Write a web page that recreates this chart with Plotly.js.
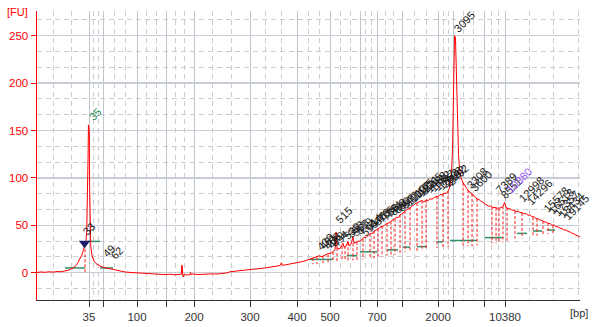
<!DOCTYPE html>
<html><head><meta charset="utf-8">
<script src="https://cdn.plot.ly/plotly-3.0.1.min.js"></script>
<style>html,body{margin:0;padding:0;background:#fff}#chart{width:592px;height:327px}</style>
</head><body><div id="chart"></div>
<script>
// ---- ladder (size standard) : migration time (s) -> bp ----
const ladderBp    = [35, 50, 100, 150, 200, 300, 400, 500, 600, 700, 1000, 2000, 3000, 7000, 10380];
const ladderTime  = [46.5, 48.25, 52.5, 56.19, 59.63, 66.63, 72.5, 76.63, 80.38, 82.5, 85.63, 90.13, 92.04, 95.91, 98.5];
const ladderShown = ['35', '', '100', '', '200', '300', '400', '500', '', '700', '', '2000', '', '', '10380'];

// ---- electropherogram trace ----
const runTime = [40.0,40.5,41.0,41.5,42.0,42.5,43.0,43.5,44.0,44.5,44.88,45.13,45.38,45.63,45.88,46.0,46.13,46.22,46.28,46.33,46.38,46.43,46.47,46.53,46.58,46.63,46.72,46.88,47.13,47.5,47.88,48.38,48.88,49.38,49.88,50.38,51.0,51.63,52.25,52.88,53.5,54.13,54.75,55.38,56.0,56.63,57.25,57.88,58.04,58.09,58.16,58.21,58.29,58.38,58.63,59.13,59.2,59.28,59.5,60.0,60.63,61.25,61.88,62.5,63.13,63.75,64.13,64.75,65.38,66.0,66.63,67.25,67.88,68.5,69.13,69.75,70.38,70.56,70.69,71.0,71.63,72.25,72.88,73.5,74.13,74.5,74.88,75.25,75.63,76.0,76.38,76.75,77.0,77.25,77.38,77.5,77.75,78.0,78.25,78.38,78.63,78.88,79.0,79.25,79.5,79.63,79.88,80.13,80.38,80.63,80.88,81.13,81.38,81.63,81.88,82.13,82.38,82.63,82.88,83.13,83.38,83.63,83.88,84.13,84.38,84.63,84.88,85.13,85.38,85.63,85.88,86.13,86.38,86.63,86.88,87.13,87.38,87.63,87.88,88.13,88.38,88.63,88.88,89.13,89.38,89.63,89.88,90.13,90.38,90.63,90.88,91.13,91.38,91.63,91.81,91.94,92.06,92.19,92.31,92.44,92.56,92.69,92.81,93.0,93.25,93.5,93.75,94.0,94.25,94.5,94.75,95.0,95.25,95.5,95.75,96.0,96.25,96.5,96.75,97.0,97.25,97.5,97.75,98.0,98.25,98.44,98.63,98.88,99.13,99.38,99.63,99.88,100.13,100.38,100.63,100.88,101.13,101.38,101.63,101.88,102.13,102.38,102.63,102.88,103.13,103.38,103.63,103.88,104.13,104.38,104.63,104.88,105.13,105.38,105.63,105.88,106.13,106.38,106.63,106.88,107.13,107.38,107.63,107.88];
const runFU = [0.3,0.8,0.4,1.0,0.6,1.2,1.0,1.8,2.8,5.0,7.5,11,15,19,26,30,34,45,68,70,120,156,154,150,90,36,28,18,12,9,7,5.5,4.5,3.5,2.5,1.5,0.8,0.3,0,-0.8,-1.2,-1.0,-1.8,-1.5,-2.0,-1.6,-2.2,-1.8,-1.5,8,7.5,-3,-4.5,-1.5,-2.5,-2.0,0.2,-2.2,-1.2,-2.0,-1.6,-1.8,-1.2,-1.4,-0.8,-0.2,1.0,1.5,1.8,2.5,3.0,3.6,4.4,5.0,5.8,6.6,7.5,10.5,7.8,8.2,9.0,10.5,11.2,12.5,14.5,15.5,16.2,17.8,16.9,18.5,20.2,20.5,22,24,43,26,25,27,31,27,28,33,28.5,30,38,31,32,33.5,33,35.5,37.5,37,39.5,41.5,41,44,45,46,48,49,49.5,51.5,52.5,53,55.5,56,58.5,58,61,62.5,63.5,66,67,68.5,70.5,71.5,73.5,74,75.5,76,74.5,77,76,78,77.5,79,80.5,80,82.5,82,84,83.5,86,91,105,130,185,250,248,200,150,125,110,100,95,91,88.5,85.5,84.5,81.5,80.5,77.5,77.5,75,74.5,72,71.5,70,70.5,68.5,69,68,68.5,68.5,70,74,69,67.5,67.5,66,66,64.5,65,63.5,63.5,62,62.5,60.5,61,59,59,57,57,55.5,55.5,53.5,53.5,52,52,50,50.5,48.5,48.5,47,46.5,45,45,43.5,43,41.5,41,39.5,39,37.5];

// ---- peak integration boundaries (time, FU at curve, FU at base) ----
const edgeTime = [46.0,74.5,75.0,75.75,76.38,77.0,77.5,78.13,78.5,78.88,79.5,80.0,80.75,81.63,82.13,82.63,83.13,83.75,84.25,84.75,85.38,86.0,86.63,87.5,88.13,88.63,90.0,90.75,91.38,93.25,93.88,94.38,95.0,96.88,97.38,97.75,98.25,98.75,99.75,100.63,102.0,102.5,103.25,103.88,104.5];
const edgeTop  = [30,15.5,16.5,18,19.5,22,26,28,28,32,31,32.5,36,41,44,46.5,49,51.5,54,57,61,65,69,73.5,76,77,80.5,83,86,95,87,83,78,69.5,68.5,68,70,68.5,65,63,58.5,57,54.5,52.5,50];
const edgeBase = [-1,9,9,10,10,11,11,12,12,12,13,13,14,15,15,16,17,18,19,19,20,22,22,23,23,24,26,27,27,27,28,28,29,31,31,31,32,32,36,36,39,39,40,41,41];

// ---- baselines (start time, end time, FU) ----
const baseStart = [43.5,46.38,47.88,74.13,78.75,80.38,83.75,85.75,87.5,90.0,91.63,96.0,100.0,102.0,103.75];
const baseEnd   = [46.0,47.88,49.5,77.0,80.0,82.5,85.13,86.63,88.75,90.75,95.0,98.25,101.25,103.13,104.75];
const baseFU    = [5,33,5,14,18,22,24,27,27.5,32.5,34,37,41.5,44,45];

// ---- peak size labels ----
const peakLabel = ['33','49','62','436','451','468','479','494','515','538','553','567','579','594',
  '614','646','673','705','738','774','808','850','897','947','1010','1092','1175','1221','1365','1488','1592','1717','1853','2008','2192','2402',
  '3095','3308','3600','7389','8551','12998','14296','15578','16518','17357','18434','19145'];
const peakTime = [45.25,47.75,48.75,74.5,74.88,75.38,75.88,76.38,76.88,77.88,78.38,78.88,79.38,80.0,
  80.63,81.13,81.63,82.13,82.63,83.13,83.63,84.13,84.63,85.13,85.63,86.13,86.63,87.13,87.63,88.13,88.63,89.13,89.63,90.13,90.5,90.88,
  91.6,93.25,93.75,96.88,97.5,99.75,100.75,102.88,103.5,104.13,104.75,105.38];
const peakFU = [35.5,12.3,10.2,20,20.5,21,22,23,48,31,33,35,37,35,
  40.5,43,46,49,51.5,54,56.5,58.5,61,63.5,67,70.5,74,77,79.5,81,82,83,84,86,87,88,
  250,85,82,80,74.5,71,68,60,58,56,54,52];

// ---- markers ----
const lowerMarker = {label:'35', time:46.05, fu:157};
const upperMarker = {label:'10380', time:98.25, fu:80};
const flagTime = [45.94], flagFU = [31];

// ---- build ----
const edgeX = [], edgeY = [];
edgeTime.forEach((t,i)=>{ edgeX.push(t,t,null); edgeY.push(edgeTop[i],edgeBase[i],null); });
const baseX = [], baseY = [];
baseStart.forEach((s,i)=>{ baseX.push(s,baseEnd[i],null); baseY.push(baseFU[i],baseFU[i],null); });

const xMinor = [];
const lead = 2.19, tail = 3.06;
xMinor.push(ladderTime[0]-2*lead, ladderTime[0]-lead);
for (let i=0;i<ladderTime.length-1;i++){ const a=ladderTime[i], b=ladderTime[i+1]; xMinor.push(a+(b-a)/3, a+2*(b-a)/3); }
for (let k=1;k<=3;k++) xMinor.push(ladderTime[ladderTime.length-1]+k*tail);
const yMinor = [];
for (let k=-1;k<=16;k++) if (k%3!==0) yMinor.push(k*50/3);

const FONT = 'DejaVu Sans, Verdana, sans-serif';
const AFONT = 'Liberation Sans, Arial, sans-serif';
const traces = [
  {x:baseX, y:baseY, mode:'lines', line:{color:'#2f8f66', width:1.5}, hoverinfo:'skip'},
  {x:edgeX, y:edgeY, mode:'lines', line:{color:'#ff1a1a', width:1, dash:'3px,2px'}, hoverinfo:'skip'},
  {x:runTime, y:runFU, mode:'lines', line:{color:'#ff0000', width:1}},
  {x:flagTime, y:flagFU, mode:'markers', marker:{symbol:'triangle-down', size:10, color:'#1c1c66'}}
];

const ann = peakLabel.map((t,i)=>({x:peakTime[i], y:peakFU[i], text:t, showarrow:false, textangle:-45,
  xanchor:'left', yanchor:'bottom', font:{family:AFONT, size:11, color:'#1a1a1a'}, borderpad:0}));
ann.push({x:lowerMarker.time, y:lowerMarker.fu, text:lowerMarker.label, showarrow:false, textangle:-45,
  xanchor:'left', yanchor:'bottom', font:{family:AFONT, size:11, color:'#2e8b57'}, borderpad:0});
ann.push({x:upperMarker.time, y:upperMarker.fu, text:upperMarker.label, showarrow:false, textangle:-45,
  xanchor:'left', yanchor:'bottom', font:{family:AFONT, size:11, color:'#9b5cf0'}, borderpad:0});
ann.push({xref:'paper', yref:'paper', x:-0.035, y:0.997, text:'[FU]', showarrow:false, xanchor:'center', yanchor:'middle', font:{family:AFONT, size:11, color:'#ff0000'}});
ann.push({xref:'paper', yref:'paper', x:0.998, y:-0.045, text:'[bp]', showarrow:false, xanchor:'center', yanchor:'middle', font:{family:AFONT, size:11, color:'#333'}});

const layout = {
  width:592, height:327, margin:{l:37, r:12, t:11, b:27, pad:0},
  paper_bgcolor:'#fff', plot_bgcolor:'#fff', showlegend:false,
  xaxis:{range:[40,107.875], tickmode:'array', tickvals:ladderTime, ticktext:ladderShown,
    ticks:'outside', ticklen:6, tickwidth:1, tickcolor:'#333', showline:true, linecolor:'#333', linewidth:1,
    showgrid:true, gridcolor:'#bfc5cf', gridwidth:1, zeroline:false,
    tickfont:{family:AFONT, size:11.5, color:'#333'},
    minor:{tickmode:'array', tickvals:xMinor, showgrid:true, gridcolor:'#cccccc', griddash:'5px,4px', gridwidth:1, ticks:''}},
  yaxis:{range:[-28.8,276.1], tickmode:'array', tickvals:[0,50,100,150,200,250],
    ticks:'outside', ticklen:5, tickwidth:1, tickcolor:'#ff0000', showline:true, linecolor:'#ff0000', linewidth:1.5,
    showgrid:true, gridcolor:'#c8cdd5', gridwidth:1.5, zeroline:false,
    tickfont:{family:AFONT, size:11.5, color:'#ff0000'},
    minor:{tickmode:'array', tickvals:yMinor, showgrid:true, gridcolor:'#cccccc', griddash:'5px,4px', gridwidth:1, ticks:''}},
  annotations: ann
};
Plotly.newPlot('chart', traces, layout, {staticPlot:true, displayModeBar:false});
</script></body></html>
